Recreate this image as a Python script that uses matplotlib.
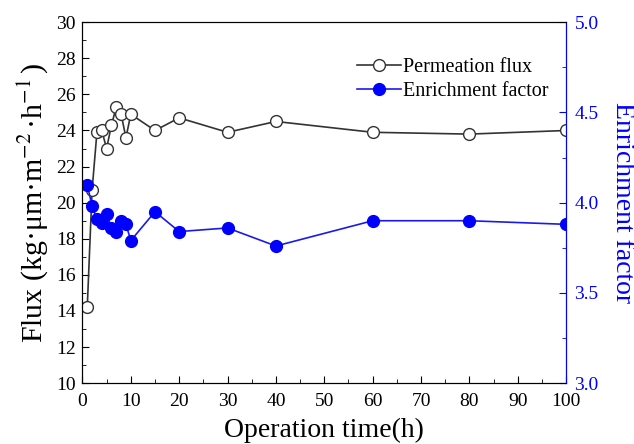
import numpy as np
import matplotlib
matplotlib.use('Agg')
import matplotlib.pyplot as plt
from matplotlib.ticker import MultipleLocator, FormatStrFormatter

plt.rcParams['font.family'] = ['Liberation Serif', 'DejaVu Serif']
plt.rcParams['mathtext.fontset'] = 'stix'

# data
time_h = [1, 2, 3, 4, 5, 6, 7, 8, 9, 10, 15, 20, 30, 40, 60, 80, 100]
flux = [14.2, 20.7, 23.9, 24.0, 23.0, 24.3, 25.3, 24.9, 23.6, 24.9,
        24.0, 24.7, 23.9, 24.5, 23.9, 23.8, 24.0]
enrich = [4.10, 3.98, 3.91, 3.89, 3.94, 3.86, 3.84, 3.90, 3.88, 3.79,
          3.95, 3.84, 3.86, 3.76, 3.90, 3.90, 3.88]

fig = plt.figure(figsize=(6.34, 4.44), dpi=100)
ax = fig.add_axes([0.130, 0.137, 0.763, 0.813])
ax2 = ax.twinx()

l1, = ax.plot(time_h, flux, '-o', color='#333333', lw=1.2, ms=8.5,
              mfc='white', mec='#333333', mew=1.0, label='Permeation flux')
l2, = ax2.plot(time_h, enrich, '-o', color='#1a1aee', lw=1.2, ms=8.5,
               mfc='blue', mec='blue', label='Enrichment factor')

ax.set_xlim(0, 100)
ax.set_ylim(10, 30)
ax2.set_ylim(3.0, 5.0)

ax.xaxis.set_major_locator(MultipleLocator(10))
ax.xaxis.set_minor_locator(MultipleLocator(5))
ax.yaxis.set_major_locator(MultipleLocator(2))
ax.yaxis.set_minor_locator(MultipleLocator(1))
ax2.yaxis.set_major_locator(MultipleLocator(0.5))
ax2.yaxis.set_minor_locator(MultipleLocator(0.25))
ax2.yaxis.set_major_formatter(FormatStrFormatter('%.1f'))

ax.tick_params(which='both', direction='in', labelsize=14, top=False, right=False)
ax.tick_params(which='major', length=5)
ax.tick_params(which='minor', length=3)
ax.tick_params(axis='x', pad=7)
ax.tick_params(axis='y', pad=5)
ax2.tick_params(which='both', direction='in', labelsize=14, colors='blue', pad=6)
ax2.tick_params(which='major', length=5)
ax2.tick_params(which='minor', length=3)
ax2.spines['right'].set_color('blue')

ax.set_xlabel('Operation time(h)', fontsize=20, labelpad=6)
ax.set_ylabel(r'Flux (kg·μm·m$^{-2}\,$·h$^{-1}\,$)', fontsize=21.5, labelpad=4)
ax2.set_ylabel('Enrichment factor', fontsize=20, color='blue', rotation=270, labelpad=26)

ax2.legend([l1, l2], ['Permeation flux', 'Enrichment factor'], loc='upper right',
           bbox_to_anchor=(1.0, 0.95), frameon=False, fontsize=14.5,
           handlelength=2.15, handletextpad=0.1, labelspacing=0.2)

fig.savefig('out.png', dpi=100)
